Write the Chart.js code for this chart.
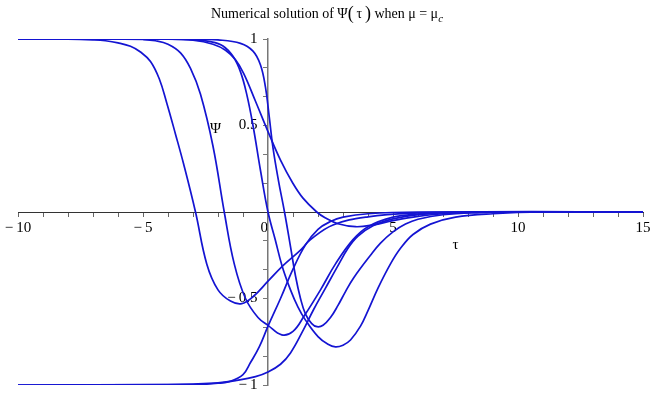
<!DOCTYPE html>
<html>
<head>
<meta charset="utf-8">
<script src="https://cdn.jsdelivr.net/npm/chart.js@4"></script>
<style>
  html, body { margin: 0; padding: 0; background: #fff; }
  #wrap { width: 656px; height: 400px; }
</style>
</head>
<body>
<div id="wrap"><canvas id="psi"></canvas></div>
<script>
/* Psi(tau) curves */

// curves that start at +1
const tauA = [-10, -8, -7, -6.5, -6, -5.5, -5.1, -4.7, -4.35, -4.05, -3.7, -3.38, -2.9, -2.45, -2, -1.5, -1.05, -0.6, 0, 0.6, 1.3, 1.7, 2.6, 4, 6, 8, 15]
const psiA = [1, 0.999, 0.995, 0.99, 0.978, 0.958, 0.925, 0.87, 0.77, 0.63, 0.45, 0.28, 0, -0.3, -0.45, -0.515, -0.53, -0.49, -0.4, -0.31, -0.22, -0.16, -0.075, -0.028, -0.005, 0, 0]

const tauB = [-10, -6, -5, -4.5, -4, -3.5, -3.1, -2.7, -2.2, -1.75, -1.35, -0.9, -0.4, 0, 0.55, 1, 1.45, 2.1, 2.7, 3.4, 4, 5, 6, 7, 9, 15]
const psiB = [1, 0.999, 0.997, 0.99, 0.97, 0.92, 0.83, 0.68, 0.38, 0, -0.3, -0.5, -0.61, -0.655, -0.71, -0.69, -0.6, -0.45, -0.3, -0.16, -0.085, -0.03, -0.012, -0.005, 0, 0]

const tauC = [-10, -4, -3, -2.3, -1.8, -1.4, -1.1, -0.85, -0.6, -0.3, 0, 0.29, 0.56, 0.9, 1.2, 1.5, 2, 2.4, 2.7, 3, 3.3, 3.7, 4, 4.4, 4.9, 5.3, 5.8, 6.5, 7.5, 9, 11, 15]
const psiC = [1, 0.999, 0.995, 0.985, 0.96, 0.9, 0.81, 0.68, 0.5, 0.24, 0, -0.16, -0.31, -0.45, -0.55, -0.625, -0.72, -0.765, -0.78, -0.77, -0.74, -0.66, -0.57, -0.44, -0.3, -0.21, -0.13, -0.07, -0.03, -0.01, 0, 0]

const tauD = [-10, -3, -2, -1.1, -0.6, -0.3, -0.1, 0.05, 0.2, 0.42, 0.66, 0.9, 1.1, 1.3, 1.5, 1.75, 1.96, 2.2, 2.5, 2.8, 3.1, 3.43, 4.1, 4.5, 5, 5.5, 6, 7, 8.5, 10, 15]
const psiD = [1, 0.999, 0.995, 0.975, 0.93, 0.85, 0.72, 0.55, 0.37, 0.18, 0, -0.2, -0.37, -0.5, -0.59, -0.645, -0.663, -0.655, -0.61, -0.54, -0.46, -0.38, -0.25, -0.18, -0.115, -0.07, -0.042, -0.016, -0.004, 0, 0]

const tauE = [-10, -4, -3, -2.2, -1.7, -1.3, -0.97, -0.5, 0, 0.5, 1, 1.4, 1.95, 2.3, 2.8, 3.5, 4.2, 5, 6, 7, 9, 15]
const psiE = [1, 0.999, 0.993, 0.97, 0.935, 0.88, 0.8, 0.64, 0.465, 0.3, 0.165, 0.08, 0, -0.035, -0.068, -0.085, -0.075, -0.05, -0.025, -0.01, 0, 0]

// curves that start at -1
const tauF = [-10, -3, -2, -1.5, -1, -0.7, -0.35, 0, 0.5, 1, 1.5, 2, 2.5, 3, 4, 6, 15]
const psiF = [-1, -0.998, -0.99, -0.978, -0.94, -0.87, -0.78, -0.66, -0.5, -0.33, -0.19, -0.1, -0.055, -0.03, -0.01, 0, 0]

const tauG = [-10, -4, -3, -2, -1.3, -0.5, 0, 0.5, 0.9, 1.42, 1.82, 2.3, 2.76, 3.2, 3.6, 4.2, 5, 6, 8, 15]
const psiG = [-1, -0.998, -0.995, -0.988, -0.975, -0.952, -0.925, -0.88, -0.815, -0.68, -0.565, -0.44, -0.32, -0.21, -0.14, -0.08, -0.04, -0.015, 0, 0]

// ticks
const xTicks = [-10, -9, -8, -7, -6, -5, -4, -3, -2, -1, 0, 1, 2, 3, 4, 5, 6, 7, 8, 9, 10, 11, 12, 13, 14, 15]
const xLabels = [-10, -5, 0, 5, 10, 15]
const yTicks = [-1, -5 / 6, -2 / 3, -0.5, -1 / 3, -1 / 6, 0, 1 / 6, 1 / 3, 0.5, 2 / 3, 5 / 6, 1]
const yLabels = [-1, -0.5, 0.5, 1]

const curves = [[tauA, psiA], [tauB, psiB], [tauC, psiC], [tauD, psiD], [tauE, psiE], [tauF, psiF], [tauG, psiG]]

const SERIF = '"Liberation Serif", "Times New Roman", serif'
const BLUE = '#1414d2'

const fmt = v => (v < 0 ? '\u2212\u2009' + (-v) : String(v))

const titlePlugin = {
  id: 'mapleText',
  afterDraw(chart) {
    const { ctx, scales: { x, y } } = chart
    ctx.save()
    ctx.fillStyle = '#000'
    ctx.textBaseline = 'alphabetic'

    // title, the subscript is drawn by hand
    const parts = [
      { t: 'Numerical solution of \u03a8', f: '14px ' + SERIF, dy: 0 },
      { t: '(', f: '18px ' + SERIF, dy: 1 },
      { t: '\u2009\u03c4\u2009', f: '14px ' + SERIF, dy: 0 },
      { t: ')', f: '18px ' + SERIF, dy: 1 },
      { t: ' when \u03bc = \u03bc', f: '14px ' + SERIF, dy: 0 },
      { t: 'c', f: 'italic 11px ' + SERIF, dy: 4 }
    ]
    let w = 0
    parts.forEach(p => { ctx.font = p.f; p.w = ctx.measureText(p.t).width; w += p.w })
    let cx = 327 - w / 2
    parts.forEach(p => {
      ctx.font = p.f
      ctx.textAlign = 'left'
      ctx.fillText(p.t, cx, 18 + p.dy)
      cx += p.w
    })

    // axis names
    ctx.font = '15px ' + SERIF
    ctx.textAlign = 'center'
    ctx.textBaseline = 'middle'
    ctx.fillText('\u03a8', x.getPixelForValue(-2.1), y.getPixelForValue(0.48))
    ctx.fillText('\u03c4', x.getPixelForValue(7.5), y.getPixelForValue(-0.19))
    ctx.restore()
  }
}

new Chart(document.getElementById('psi'), {
  type: 'line',
  data: {
    datasets: curves.map(([t, p]) => ({
      data: t.map((v, i) => ({ x: v, y: p[i] })),
      borderColor: BLUE,
      borderWidth: 1.7,
      pointRadius: 0,
      fill: false,
      tension: 0.4
    }))
  },
  options: {
    animation: false,
    responsive: true,
    maintainAspectRatio: false,
    layout: { padding: { left: 18, right: 13, top: 39, bottom: 15 } },
    plugins: {
      legend: { display: false },
      title: { display: false },
      tooltip: { enabled: false }
    },
    scales: {
      x: {
        type: 'linear',
        min: -10,
        max: 15,
        position: { y: 0 },
        afterBuildTicks: s => { s.ticks = xTicks.map(v => ({ value: v })) },
        grid: { drawOnChartArea: false, drawTicks: true, tickLength: 4, color: '#666' },
        border: { color: '#333', width: 1 },
        ticks: {
          autoSkip: false,
          maxRotation: 0,
          padding: 3,
          color: '#000',
          font: { family: SERIF, size: 15 },
          callback: v => (v === 0 ? '0\u2002' : xLabels.includes(v) ? fmt(v) : '')
        }
      },
      y: {
        type: 'linear',
        min: -1,
        max: 1,
        position: { x: 0 },
        afterBuildTicks: s => { s.ticks = yTicks.map(v => ({ value: v })) },
        grid: { drawOnChartArea: false, drawTicks: true, tickLength: 4, color: '#777' },
        border: { color: '#777', width: 1.5 },
        ticks: {
          autoSkip: false,
          color: '#000',
          font: { family: SERIF, size: 15 },
          // trailing space keeps the label clear of the axis line
          callback: v => (yLabels.includes(v) ? fmt(v) + '\u2002\u2009' : '')
        }
      }
    }
  },
  plugins: [titlePlugin]
})
</script>
</body>
</html>
